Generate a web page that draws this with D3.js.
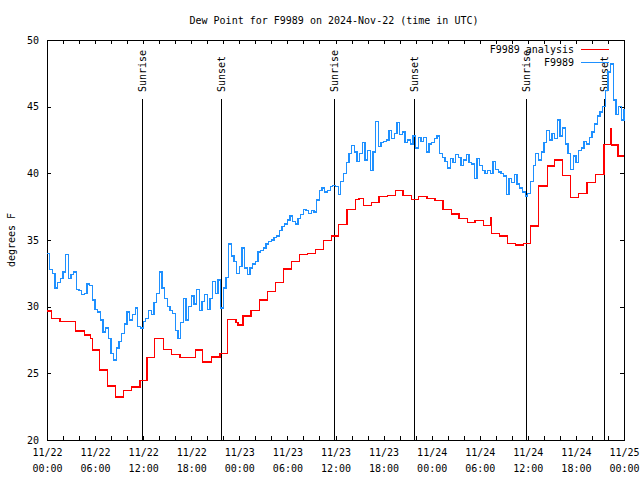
<!DOCTYPE html>
<html><head><meta charset="utf-8">
<script src="https://cdn.jsdelivr.net/npm/d3@7"></script>
<style>
body{margin:0;background:#fff}
text{font-family:"DejaVu Sans Mono",monospace;font-size:10px;fill:#000}
</style>
</head><body>
<svg id="c" width="640" height="480"></svg>
<script>
// ---------- data ----------
const chartTitle = "Dew Point for F9989 on 2024-Nov-22 (time in UTC)";
const yLabel = "degrees F";
const startTime = "2024-11-22T00:00:00Z";
const spanHours = 72;
const yTicks = [20, 25, 30, 35, 40, 45, 50];
const seriesNames = ["F9989 analysis", "F9989"];

const sunLabels = ["Sunrise", "Sunset", "Sunrise", "Sunset", "Sunrise", "Sunset"];
const sunHours  = [11.85, 21.74, 35.85, 45.75, 59.8, 69.55];

// analysis (step values, hour at which each value starts)
const analysisHours = [0, 0.59, 1.62, 3.58, 4.65, 5.45, 5.65, 6.53, 7.57, 8.52, 9.52, 10.57, 11.6, 12.5, 13.4, 14.56, 15.56, 16.6, 18.55, 19.43, 20.5, 21.6, 22.5, 23.6, 23.85, 24.46, 25.46, 26.5, 27.5, 28.5, 29.5, 30.5, 31.5, 32.5, 33.5, 34.5, 35.5, 36.4, 37.43, 38.47, 38.93, 39.52, 40.47, 41.43, 42.46, 43.46, 44.42, 45.46, 46.38, 47.42, 48.42, 49.41, 50.45, 51.41, 52.45, 53.41, 54.44, 55.37, 55.49, 56.49, 57.44, 58.49, 59.43, 60.31, 61.36, 62.43, 63.35, 64.3, 65.3, 66.35, 67.38, 68.42, 69.5, 70.35, 70.45, 71.25, 72];
const analysisValues = [29.67, 29.13, 28.88, 28.18, 27.88, 27.63, 26.75, 25.25, 24.05, 23.23, 23.73, 23.98, 24.48, 26.17, 27.63, 26.8, 26.4, 26.17, 26.75, 25.85, 26.22, 26.5, 29.05, 28.8, 28.63, 29.3, 29.7, 30.5, 31.13, 31.8, 32.83, 33.38, 33.93, 34.0, 34.3, 34.95, 35.3, 36.17, 37.3, 38.05, 38.13, 37.58, 37.83, 38.25, 38.35, 38.73, 38.35, 38.05, 38.28, 38.13, 37.95, 37.3, 36.95, 36.6, 36.3, 36.45, 36.08, 36.7, 35.5, 35.3, 34.75, 34.63, 34.75, 36.05, 39.05, 40.55, 41.0, 39.83, 38.18, 38.5, 39.3, 39.93, 42.18, 43.38, 42.13, 41.3, 41.3];

// observations, one value every 20 minutes from 00:00
const obsIntervalHours = 1 / 3;
const obsValues = [
  34.0, 32.8, 32.5, 31.4, 31.8, 32.1, 32.6, 33.9, 32.1, 32.4, 32.6, 31.3, 31.2, 30.9, 31.0, 31.7, 31.6, 30.5, 29.8, 29.6, 29.0, 28.1, 28.4, 27.6, 26.5, 26.0, 26.9, 27.4, 28.0, 28.7, 29.6, 29.0, 29.4, 29.9, 28.5, 28.4, 28.9,
  29.1, 29.7, 29.4, 30.3, 31.0, 32.6, 31.4, 30.6, 30.0, 29.7, 29.5, 28.2, 27.6, 28.8, 30.6, 29.0, 30.0, 30.8, 30.2, 31.3, 29.7, 30.4, 30.9, 29.8, 30.6, 31.9, 31.0, 32.0, 29.9, 31.4, 32.2, 34.7, 33.8, 33.4, 32.5,
  33.0, 34.4, 32.9, 32.4, 32.9, 33.2, 33.4, 34.1, 34.2, 34.4, 34.7, 34.9, 35.0, 35.2, 35.3, 35.7, 36.0, 36.2, 36.5, 36.8, 36.4, 36.2, 36.6, 36.9, 37.3, 37.2, 37.0, 37.2, 37.1, 38.0, 38.7, 38.9, 38.6, 38.7, 39.0, 39.1, 39.0,
  38.4, 39.4, 40.0, 40.8, 41.5, 42.1, 41.6, 40.9, 41.5, 42.3, 41.0, 41.7, 40.2, 41.6, 43.9, 42.0, 42.3, 42.4, 42.5, 43.2, 42.6, 43.0, 43.8, 42.9, 43.1, 42.3, 42.5, 42.2, 42.8, 41.9, 42.7, 42.4, 42.7, 41.6, 42.2, 42.3,
  42.6, 42.8, 41.5, 41.2, 40.9, 40.4, 41.1, 40.8, 41.4, 41.2, 40.6, 41.0, 41.4, 40.8, 40.7, 39.6, 41.1, 40.6, 40.2, 40.0, 40.2, 40.0, 40.9, 40.3, 40.1, 40.0, 39.8, 38.4, 39.6, 39.3, 39.9, 39.2, 38.9, 38.6, 38.3, 38.5,
  39.4, 40.6, 41.5, 41.0, 41.6, 42.3, 43.2, 42.5, 43.0, 42.6, 44.0, 42.8, 43.4, 42.2, 41.5, 40.3, 41.3, 40.8, 41.7, 41.9, 42.4, 42.2, 42.7, 43.1, 43.7, 44.3, 44.6, 45.0, 46.2, 47.6, 48.2, 45.5, 44.4, 45.0, 44.0, 44.8
];

const analysisColor = "#ff0000";
const obsColor = "#1e90ff";

// ---------- chart ----------
const svg = d3.select("#c");
const L = 47, R = 624, T = 40, B = 440;
const t0 = new Date(startTime);
const hr = h => new Date(t0.getTime() + h * 3600e3);

const x = d3.scaleUtc().domain([t0, hr(spanHours)]).range([L, R]);
const y = d3.scaleLinear().domain([20, 50]).range([B, T]);

svg.append("rect").attr("width", 640).attr("height", 480).attr("fill", "#fff");

// title
svg.append("text").attr("x", 334).attr("y", 24).attr("text-anchor", "middle").text(chartTitle);

// y label
svg.append("text").attr("transform", "translate(15,240) rotate(-90)")
  .attr("text-anchor", "middle").text(yLabel);

// axes
const every2 = x.ticks(d3.utcHour.every(2));
const every6 = x.ticks(d3.utcHour.every(6));

const gB = svg.append("g").attr("transform", `translate(0,${B})`)
  .call(d3.axisBottom(x).tickValues(every2).tickSizeInner(-4).tickSizeOuter(0).tickFormat(""));
const gT = svg.append("g").attr("transform", `translate(0,${T})`)
  .call(d3.axisTop(x).tickValues(every2).tickSizeInner(-4).tickSizeOuter(0).tickFormat(""));
const gL = svg.append("g").attr("transform", `translate(${L},0)`)
  .call(d3.axisLeft(y).tickValues(yTicks).tickSizeInner(-4).tickSizeOuter(0).tickPadding(8).tickFormat(d3.format("d")));
const gR = svg.append("g").attr("transform", `translate(${R},0)`)
  .call(d3.axisRight(y).tickValues(yTicks).tickSizeInner(-4).tickSizeOuter(0).tickFormat(""));

// x labels (two lines)
const gX = svg.append("g").attr("transform", `translate(0,${B})`)
  .call(d3.axisBottom(x).tickValues(every6).tickSize(0).tickPadding(0).tickFormat(d3.utcFormat("%m/%d")));
gX.select(".domain").remove();
gX.selectAll(".tick text").each(function(d) {
  const t = d3.select(this);
  t.text(null).attr("y", 0).attr("dy", null);
  t.append("tspan").attr("x", 0).attr("y", 16).text(d3.utcFormat("%m/%d")(d));
  t.append("tspan").attr("x", 0).attr("y", 32).text(d3.utcFormat("%H:%M")(d));
});

[gB, gT, gL, gR].forEach(g => {
  g.selectAll("line").attr("stroke", "#000").attr("shape-rendering", "crispEdges");
  g.select(".domain").remove();
});
svg.selectAll(".tick text").attr("fill", "#000").attr("font-family", '"DejaVu Sans Mono",monospace').attr("font-size", 10);

// frame
svg.append("rect").attr("x", L + 0.5).attr("y", T + 0.5).attr("width", R - L).attr("height", B - T)
  .attr("fill", "none").attr("stroke", "#000").attr("shape-rendering", "crispEdges");

// sunrise / sunset lines
const sunData = sunHours.map((h, i) => ({ t: hr(h), label: sunLabels[i] }));
svg.append("g").selectAll("line").data(sunData).join("line")
  .attr("x1", d => Math.round(x(d.t)) + 0.5).attr("x2", d => Math.round(x(d.t)) + 0.5)
  .attr("y1", 99).attr("y2", B)
  .attr("stroke", "#000").attr("stroke-width", 1).attr("shape-rendering", "crispEdges");
svg.append("g").selectAll("text").data(sunData).join("text")
  .attr("transform", d => `translate(${x(d.t) + 4},92) rotate(-90)`)
  .attr("text-anchor", "start").text(d => d.label);

// series
const analysisData = analysisHours.map((h, i) => ({ t: hr(h), v: analysisValues[i] }));
const obsData = obsValues.map((v, i) => ({ t: hr(i * obsIntervalHours), v }));
const line = d3.line().x(d => x(d.t)).y(d => y(d.v)).curve(d3.curveStepAfter);

svg.append("path").datum(analysisData).attr("d", line)
  .attr("fill", "none").attr("stroke", analysisColor).attr("stroke-width", 1.5)
  .attr("shape-rendering", "crispEdges");
svg.append("path").datum(obsData).attr("d", line)
  .attr("fill", "none").attr("stroke", obsColor).attr("stroke-width", 1.3)
  .attr("shape-rendering", "crispEdges");

// legend
const legColors = [analysisColor, obsColor];
const legY = [49.5, 62.5];
seriesNames.forEach((name, i) => {
  svg.append("text").attr("x", 574).attr("y", legY[i] + 3.5).attr("text-anchor", "end").text(name);
  svg.append("line").attr("x1", 581).attr("x2", 609).attr("y1", legY[i]).attr("y2", legY[i])
    .attr("stroke", legColors[i]).attr("stroke-width", 1.5).attr("shape-rendering", "crispEdges");
});
</script>
</body></html>
